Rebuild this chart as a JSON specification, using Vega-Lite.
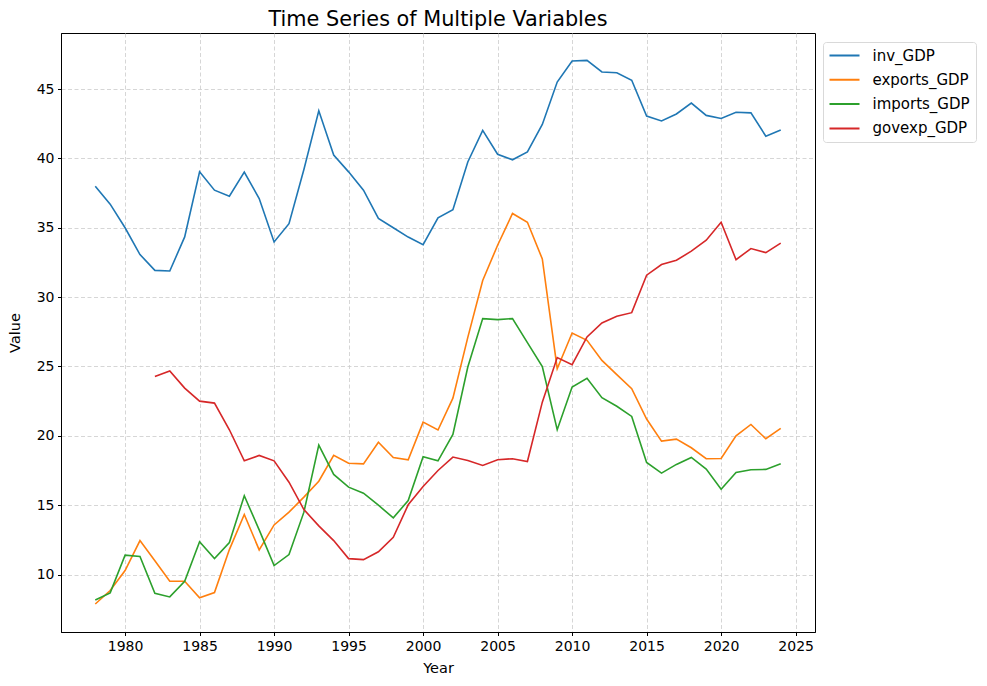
{
  "$schema": "https://vega.github.io/schema/vega-lite/v6.json",
  "width": 754,
  "height": 599,
  "autosize": {"type": "none"},
  "padding": {"left": 61, "top": 33, "right": 172, "bottom": 54},
  "background": "white",
  "title": {"text": "Time Series of Multiple Variables", "fontSize": 20.8, "font": "DejaVu Sans", "fontWeight": "normal", "color": "black", "offset": 2, "anchor": "middle", "frame": "group"},
  "config": {
    "font": "DejaVu Sans",
    "view": {"stroke": "black", "strokeWidth": 1},
    "axis": {
      "domainColor": "black", "domainWidth": 1,
      "tickColor": "black", "tickSize": 3.5, "tickWidth": 1,
      "labelFont": "DejaVu Sans", "labelFontSize": 14, "labelColor": "black", "labelPadding": 3.5,
      "titleFont": "DejaVu Sans", "titleFontSize": 14.5, "titleFontWeight": "normal", "titleColor": "black",
      "grid": true, "gridColor": "#cccccc", "gridDash": [4, 2.5], "gridWidth": 0.8
    },
    "legend": {
      "labelFont": "DejaVu Sans", "labelFontSize": 15, "labelColor": "black",
      "strokeColor": "#d9d9d9", "fillColor": "white", "cornerRadius": 3, "padding": 5.5,
      "symbolType": "stroke", "symbolSize": 900, "symbolStrokeWidth": 2, "clipHeight": 16, "rowPadding": 8.3, "labelOffset": 12
    }
  },
  "data": {"values": [
    {"Year":1978,"variable":"inv_GDP","value":38.0},{"Year":1979,"variable":"inv_GDP","value":36.7},{"Year":1980,"variable":"inv_GDP","value":35.0},{"Year":1981,"variable":"inv_GDP","value":33.07},{"Year":1982,"variable":"inv_GDP","value":31.93},{"Year":1983,"variable":"inv_GDP","value":31.88},{"Year":1984,"variable":"inv_GDP","value":34.34},{"Year":1985,"variable":"inv_GDP","value":39.04},{"Year":1986,"variable":"inv_GDP","value":37.71},{"Year":1987,"variable":"inv_GDP","value":37.28},{"Year":1988,"variable":"inv_GDP","value":39.02},{"Year":1989,"variable":"inv_GDP","value":37.11},{"Year":1990,"variable":"inv_GDP","value":33.98},{"Year":1991,"variable":"inv_GDP","value":35.29},{"Year":1992,"variable":"inv_GDP","value":39.2},{"Year":1993,"variable":"inv_GDP","value":43.43},{"Year":1994,"variable":"inv_GDP","value":40.24},{"Year":1995,"variable":"inv_GDP","value":39.03},{"Year":1996,"variable":"inv_GDP","value":37.71},{"Year":1997,"variable":"inv_GDP","value":35.68},{"Year":1998,"variable":"inv_GDP","value":35.0},{"Year":1999,"variable":"inv_GDP","value":34.33},{"Year":2000,"variable":"inv_GDP","value":33.78},{"Year":2001,"variable":"inv_GDP","value":35.72},{"Year":2002,"variable":"inv_GDP","value":36.3},{"Year":2003,"variable":"inv_GDP","value":39.74},{"Year":2004,"variable":"inv_GDP","value":42.02},{"Year":2005,"variable":"inv_GDP","value":40.3},{"Year":2006,"variable":"inv_GDP","value":39.9},{"Year":2007,"variable":"inv_GDP","value":40.47},{"Year":2008,"variable":"inv_GDP","value":42.45},{"Year":2009,"variable":"inv_GDP","value":45.5},{"Year":2010,"variable":"inv_GDP","value":47.02},{"Year":2011,"variable":"inv_GDP","value":47.07},{"Year":2012,"variable":"inv_GDP","value":46.23},{"Year":2013,"variable":"inv_GDP","value":46.18},{"Year":2014,"variable":"inv_GDP","value":45.63},{"Year":2015,"variable":"inv_GDP","value":43.05},{"Year":2016,"variable":"inv_GDP","value":42.7},{"Year":2017,"variable":"inv_GDP","value":43.2},{"Year":2018,"variable":"inv_GDP","value":43.99},{"Year":2019,"variable":"inv_GDP","value":43.1},{"Year":2020,"variable":"inv_GDP","value":42.88},{"Year":2021,"variable":"inv_GDP","value":43.33},{"Year":2022,"variable":"inv_GDP","value":43.28},{"Year":2023,"variable":"inv_GDP","value":41.6},{"Year":2024,"variable":"inv_GDP","value":42.04},
    {"Year":1978,"variable":"exports_GDP","value":7.88},{"Year":1979,"variable":"exports_GDP","value":8.85},{"Year":1980,"variable":"exports_GDP","value":10.29},{"Year":1981,"variable":"exports_GDP","value":12.45},{"Year":1982,"variable":"exports_GDP","value":11.0},{"Year":1983,"variable":"exports_GDP","value":9.52},{"Year":1984,"variable":"exports_GDP","value":9.52},{"Year":1985,"variable":"exports_GDP","value":8.32},{"Year":1986,"variable":"exports_GDP","value":8.7},{"Year":1987,"variable":"exports_GDP","value":11.8},{"Year":1988,"variable":"exports_GDP","value":14.33},{"Year":1989,"variable":"exports_GDP","value":11.78},{"Year":1990,"variable":"exports_GDP","value":13.58},{"Year":1991,"variable":"exports_GDP","value":14.5},{"Year":1992,"variable":"exports_GDP","value":15.58},{"Year":1993,"variable":"exports_GDP","value":16.73},{"Year":1994,"variable":"exports_GDP","value":18.6},{"Year":1995,"variable":"exports_GDP","value":18.03},{"Year":1996,"variable":"exports_GDP","value":17.98},{"Year":1997,"variable":"exports_GDP","value":19.54},{"Year":1998,"variable":"exports_GDP","value":18.44},{"Year":1999,"variable":"exports_GDP","value":18.27},{"Year":2000,"variable":"exports_GDP","value":20.99},{"Year":2001,"variable":"exports_GDP","value":20.42},{"Year":2002,"variable":"exports_GDP","value":22.72},{"Year":2003,"variable":"exports_GDP","value":27.1},{"Year":2004,"variable":"exports_GDP","value":31.2},{"Year":2005,"variable":"exports_GDP","value":33.74},{"Year":2006,"variable":"exports_GDP","value":36.03},{"Year":2007,"variable":"exports_GDP","value":35.4},{"Year":2008,"variable":"exports_GDP","value":32.75},{"Year":2009,"variable":"exports_GDP","value":24.84},{"Year":2010,"variable":"exports_GDP","value":27.41},{"Year":2011,"variable":"exports_GDP","value":26.89},{"Year":2012,"variable":"exports_GDP","value":25.44},{"Year":2013,"variable":"exports_GDP","value":24.41},{"Year":2014,"variable":"exports_GDP","value":23.4},{"Year":2015,"variable":"exports_GDP","value":21.21},{"Year":2016,"variable":"exports_GDP","value":19.62},{"Year":2017,"variable":"exports_GDP","value":19.76},{"Year":2018,"variable":"exports_GDP","value":19.14},{"Year":2019,"variable":"exports_GDP","value":18.35},{"Year":2020,"variable":"exports_GDP","value":18.37},{"Year":2021,"variable":"exports_GDP","value":20.0},{"Year":2022,"variable":"exports_GDP","value":20.82},{"Year":2023,"variable":"exports_GDP","value":19.79},{"Year":2024,"variable":"exports_GDP","value":20.54},
    {"Year":1978,"variable":"imports_GDP","value":8.17},{"Year":1979,"variable":"imports_GDP","value":8.68},{"Year":1980,"variable":"imports_GDP","value":11.4},{"Year":1981,"variable":"imports_GDP","value":11.3},{"Year":1982,"variable":"imports_GDP","value":8.65},{"Year":1983,"variable":"imports_GDP","value":8.39},{"Year":1984,"variable":"imports_GDP","value":9.52},{"Year":1985,"variable":"imports_GDP","value":12.36},{"Year":1986,"variable":"imports_GDP","value":11.15},{"Year":1987,"variable":"imports_GDP","value":12.31},{"Year":1988,"variable":"imports_GDP","value":15.68},{"Year":1989,"variable":"imports_GDP","value":13.22},{"Year":1990,"variable":"imports_GDP","value":10.65},{"Year":1991,"variable":"imports_GDP","value":11.44},{"Year":1992,"variable":"imports_GDP","value":14.5},{"Year":1993,"variable":"imports_GDP","value":19.33},{"Year":1994,"variable":"imports_GDP","value":17.22},{"Year":1995,"variable":"imports_GDP","value":16.3},{"Year":1996,"variable":"imports_GDP","value":15.87},{"Year":1997,"variable":"imports_GDP","value":15.0},{"Year":1998,"variable":"imports_GDP","value":14.09},{"Year":1999,"variable":"imports_GDP","value":15.34},{"Year":2000,"variable":"imports_GDP","value":18.5},{"Year":2001,"variable":"imports_GDP","value":18.2},{"Year":2002,"variable":"imports_GDP","value":20.1},{"Year":2003,"variable":"imports_GDP","value":24.96},{"Year":2004,"variable":"imports_GDP","value":28.45},{"Year":2005,"variable":"imports_GDP","value":28.38},{"Year":2006,"variable":"imports_GDP","value":28.45},{"Year":2007,"variable":"imports_GDP","value":26.72},{"Year":2008,"variable":"imports_GDP","value":25.0},{"Year":2009,"variable":"imports_GDP","value":20.44},{"Year":2010,"variable":"imports_GDP","value":23.52},{"Year":2011,"variable":"imports_GDP","value":24.15},{"Year":2012,"variable":"imports_GDP","value":22.75},{"Year":2013,"variable":"imports_GDP","value":22.13},{"Year":2014,"variable":"imports_GDP","value":21.4},{"Year":2015,"variable":"imports_GDP","value":18.08},{"Year":2016,"variable":"imports_GDP","value":17.31},{"Year":2017,"variable":"imports_GDP","value":17.94},{"Year":2018,"variable":"imports_GDP","value":18.44},{"Year":2019,"variable":"imports_GDP","value":17.6},{"Year":2020,"variable":"imports_GDP","value":16.15},{"Year":2021,"variable":"imports_GDP","value":17.36},{"Year":2022,"variable":"imports_GDP","value":17.56},{"Year":2023,"variable":"imports_GDP","value":17.58},{"Year":2024,"variable":"imports_GDP","value":17.99},
    {"Year":1982,"variable":"govexp_GDP","value":24.27},{"Year":1983,"variable":"govexp_GDP","value":24.67},{"Year":1984,"variable":"govexp_GDP","value":23.44},{"Year":1985,"variable":"govexp_GDP","value":22.5},{"Year":1986,"variable":"govexp_GDP","value":22.36},{"Year":1987,"variable":"govexp_GDP","value":20.44},{"Year":1988,"variable":"govexp_GDP","value":18.2},{"Year":1989,"variable":"govexp_GDP","value":18.59},{"Year":1990,"variable":"govexp_GDP","value":18.2},{"Year":1991,"variable":"govexp_GDP","value":16.66},{"Year":1992,"variable":"govexp_GDP","value":14.69},{"Year":1993,"variable":"govexp_GDP","value":13.51},{"Year":1994,"variable":"govexp_GDP","value":12.45},{"Year":1995,"variable":"govexp_GDP","value":11.15},{"Year":1996,"variable":"govexp_GDP","value":11.08},{"Year":1997,"variable":"govexp_GDP","value":11.64},{"Year":1998,"variable":"govexp_GDP","value":12.69},{"Year":1999,"variable":"govexp_GDP","value":15.03},{"Year":2000,"variable":"govexp_GDP","value":16.35},{"Year":2001,"variable":"govexp_GDP","value":17.5},{"Year":2002,"variable":"govexp_GDP","value":18.47},{"Year":2003,"variable":"govexp_GDP","value":18.23},{"Year":2004,"variable":"govexp_GDP","value":17.87},{"Year":2005,"variable":"govexp_GDP","value":18.28},{"Year":2006,"variable":"govexp_GDP","value":18.35},{"Year":2007,"variable":"govexp_GDP","value":18.15},{"Year":2008,"variable":"govexp_GDP","value":22.43},{"Year":2009,"variable":"govexp_GDP","value":25.64},{"Year":2010,"variable":"govexp_GDP","value":25.13},{"Year":2011,"variable":"govexp_GDP","value":27.13},{"Year":2012,"variable":"govexp_GDP","value":28.14},{"Year":2013,"variable":"govexp_GDP","value":28.62},{"Year":2014,"variable":"govexp_GDP","value":28.88},{"Year":2015,"variable":"govexp_GDP","value":31.58},{"Year":2016,"variable":"govexp_GDP","value":32.35},{"Year":2017,"variable":"govexp_GDP","value":32.66},{"Year":2018,"variable":"govexp_GDP","value":33.31},{"Year":2019,"variable":"govexp_GDP","value":34.1},{"Year":2020,"variable":"govexp_GDP","value":35.4},{"Year":2021,"variable":"govexp_GDP","value":32.7},{"Year":2022,"variable":"govexp_GDP","value":33.5},{"Year":2023,"variable":"govexp_GDP","value":33.21},{"Year":2024,"variable":"govexp_GDP","value":33.89}
  ]},
  "mark": {"type": "line", "strokeWidth": 1.6, "clip": true},
  "encoding": {
    "x": {"field": "Year", "type": "quantitative", "scale": {"domain": [1975.7, 2026.3], "nice": false, "zero": false},
      "axis": {"title": "Year", "values": [1980, 1985, 1990, 1995, 2000, 2005, 2010, 2015, 2020, 2025], "format": "d", "titlePadding": 8}},
    "y": {"field": "value", "type": "quantitative", "scale": {"domain": [5.86, 49.04], "nice": false, "zero": false},
      "axis": {"title": "Value", "values": [10, 15, 20, 25, 30, 35, 40, 45], "titlePadding": 14}},
    "color": {"field": "variable", "type": "nominal",
      "scale": {"domain": ["inv_GDP", "exports_GDP", "imports_GDP", "govexp_GDP"], "range": ["#1f77b4", "#ff7f0e", "#2ca02c", "#d62728"]},
      "legend": {"title": null, "orient": "none", "legendX": 762, "legendY": 9}}
  }
}
